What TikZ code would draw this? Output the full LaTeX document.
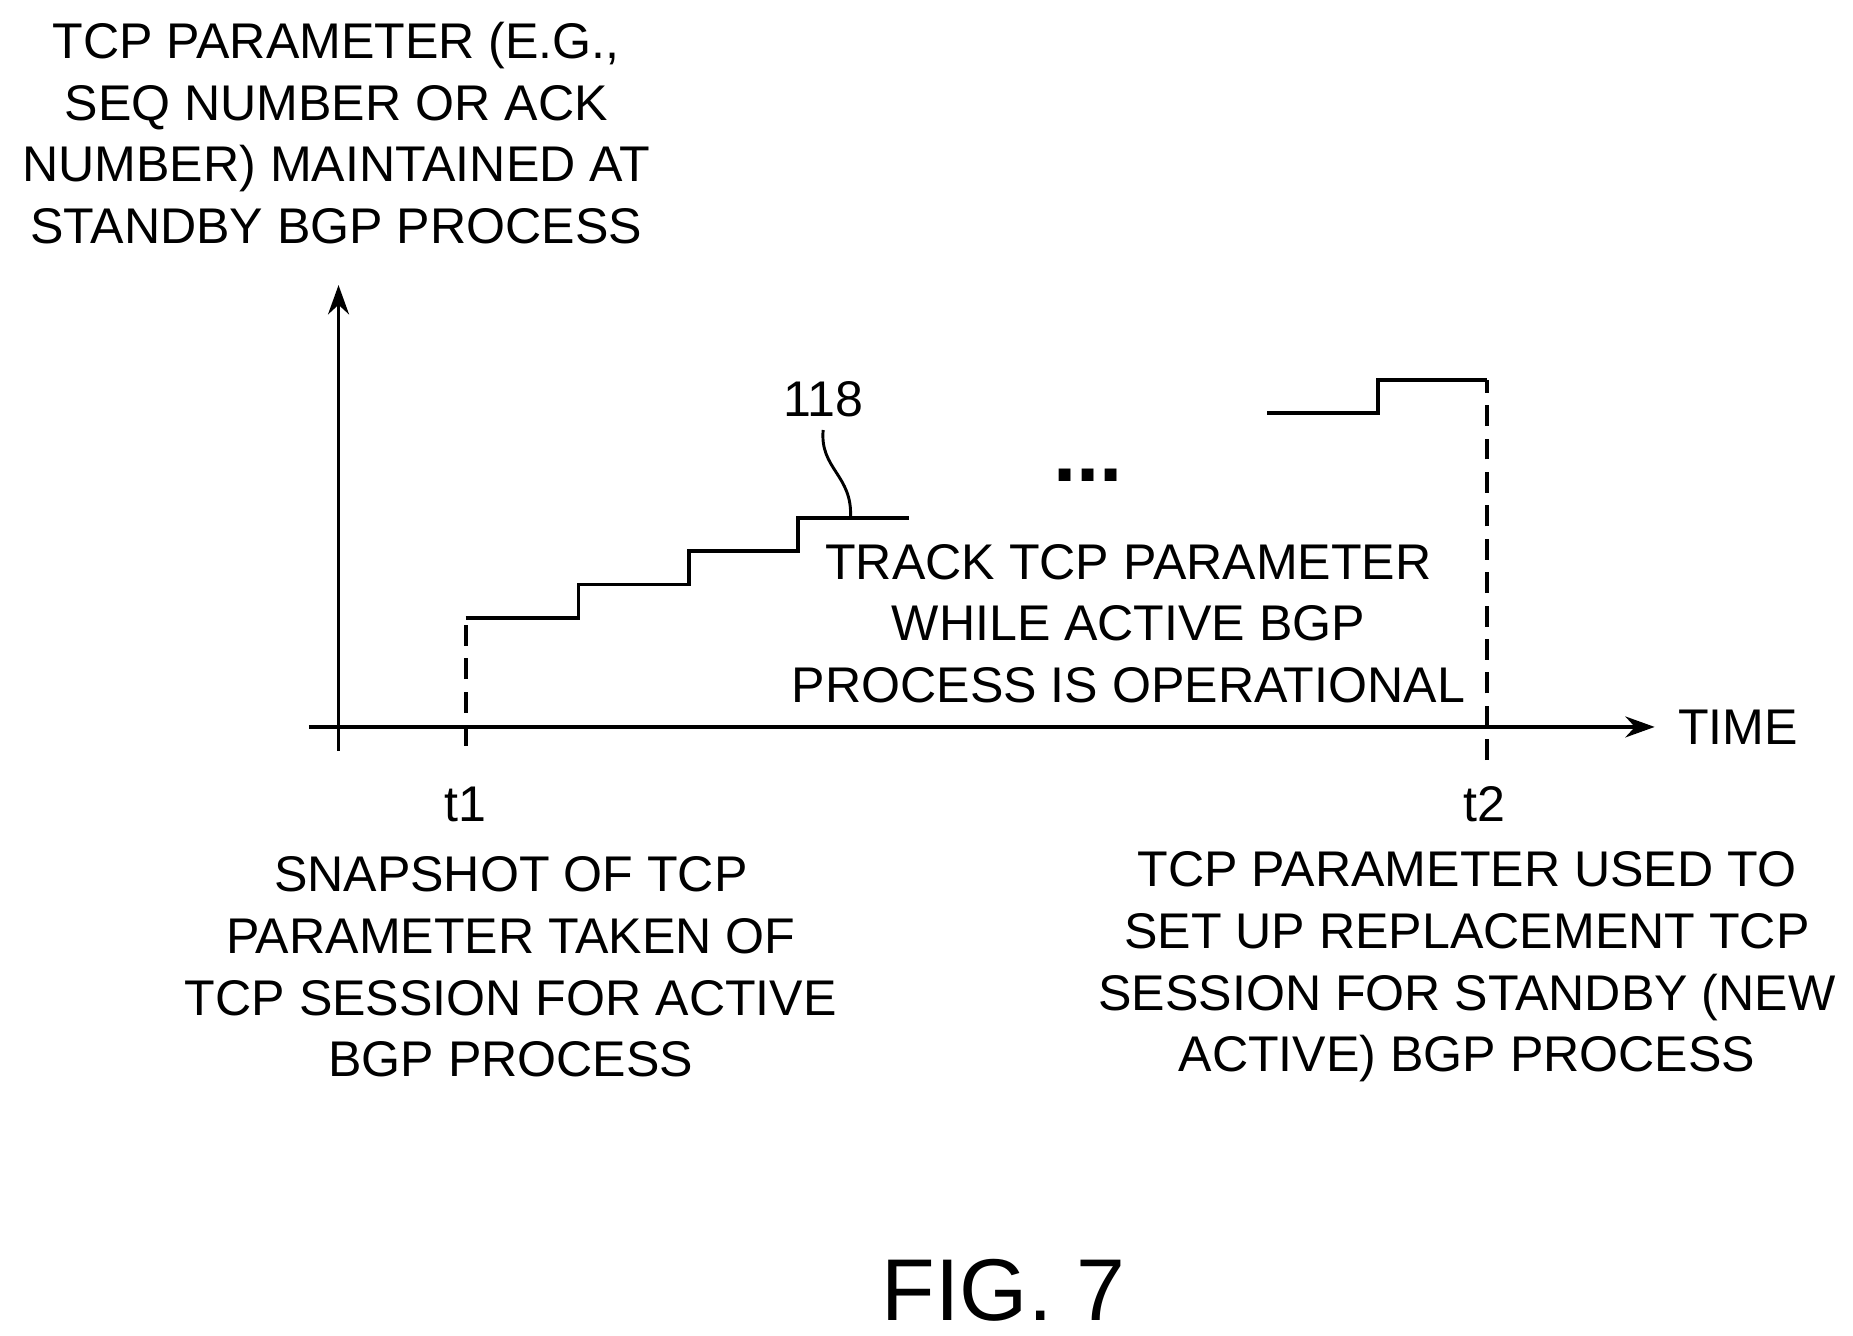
\documentclass[tikz,border=0pt]{standalone}
\usepackage{fontspec}
\setmainfont{Liberation Sans}
\usetikzlibrary{arrows.meta}
\tikzset{
  lbl/.style={align=center, font=\fontsize{12}{14.8}\selectfont, inner sep=0pt},
  ax/.style={line width=0.9pt, -{Stealth[length=7pt,width=5pt]}},
  stp/.style={line width=0.9pt},
  dsh/.style={line width=0.9pt, dash pattern=on 5pt off 3pt}
}
\begin{document}
\begin{tikzpicture}[x=0.01cm,y=-0.01cm]
	\useasboundingbox (0,0) rectangle (1560,1124);
	% axes
	\coordinate (o) at (285,612);
	\coordinate (ytop) at (285,240);
	\coordinate (ybot) at (285,632);
	\coordinate (xl) at (260,612);
	\coordinate (xr) at (1393,612);
	\draw[ax] (ybot) -- (ytop);
	\draw[ax] (xl) -- (xr);
	\node[lbl] (yl) at (283,112) {TCP PARAMETER (E.G.,\\SEQ NUMBER OR ACK\\NUMBER) MAINTAINED AT\\STANDBY BGP PROCESS};
	\node[lbl, anchor=west] (time) at (1412,612) {TIME};

	% time marks
	\node[lbl] (t1) at (392,677) {t1};
	\node[lbl] (t2) at (1250,677) {t2};
	\coordinate (t1a) at (392,628);
	\coordinate (t1b) at (392,520);
	\coordinate (t2a) at (1252,640);
	\coordinate (t2b) at (1252,320);
	\draw[dsh] (t1a) -- (t1b);
	\draw[dsh] (t2a) -- (t2b);

	% staircase
	\draw[stp] (t1b) -- (487,520) -- (487,492) -- (580,492) -- (580,464)
		-- (672,464) -- (672,436) -- (765,436);
	\draw[stp] (1067,348) -- (1160,348) -- (1160,320) -- (t2b);
	\node[font=\fontsize{20}{20}\selectfont\bfseries, inner sep=0pt] (dots) at (916,400) {...};

	% reference numeral
	\node[lbl] (n118) at (693,336) {118};
	\draw[line width=0.7pt] (693,362) .. controls (690,395) and (718,400) .. (716,436);

	\node[lbl] (track) at (950,525) {TRACK TCP PARAMETER\\WHILE ACTIVE BGP\\PROCESS IS OPERATIONAL};
	\node[lbl] (snap) at (430,814) {SNAPSHOT OF TCP\\PARAMETER TAKEN OF\\TCP SESSION FOR ACTIVE\\BGP PROCESS};
	\node[lbl] (used) at (1235,814) {TCP PARAMETER USED TO\\SET UP REPLACEMENT TCP\\SESSION FOR STANDBY (NEW\\ACTIVE) BGP PROCESS};
	\node[font=\fontsize{21}{21}\selectfont, inner sep=0pt] (fig) at (845,1086) {FIG. 7};
\end{tikzpicture}
\end{document}
